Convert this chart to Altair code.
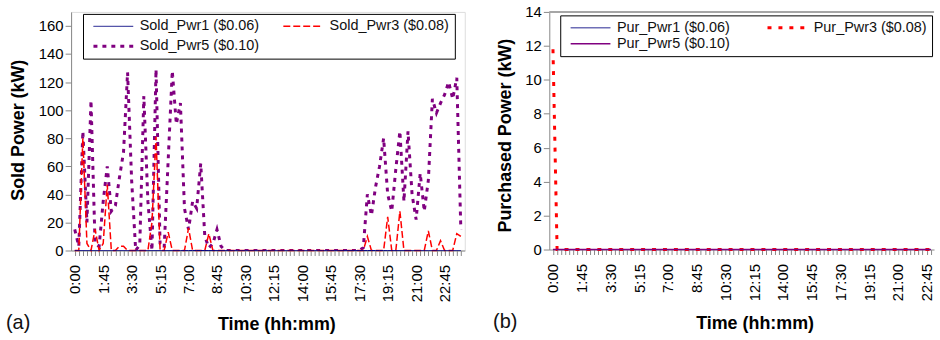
import json
import altair as alt
import pandas as pd

FONT = "Liberation Sans"

TIMES = [f"{h}:{m:02d}" for h in range(24) for m in (0, 15, 30, 45)]
TICK_LABELS = ["0:00", "1:45", "3:30", "5:15", "7:00", "8:45", "10:30", "12:15",
               "14:00", "15:45", "17:30", "19:15", "21:00", "22:45"]

SOLD_NAMES = ["Sold_Pwr1 ($0.06)", "Sold_Pwr3 ($0.08)", "Sold_Pwr5 ($0.10)"]
PUR_NAMES = ["Pur_Pwr1 ($0.06)", "Pur_Pwr3 ($0.08)", "Pur_Pwr5 ($0.10)"]
PANEL_LABELS = ["(a)", "(b)"]

SOLD_PWR1 = [0] * 96
SOLD_PWR3 = [
    0, 0, 80, 5, 0, 15, 0, 5, 47, 0,
    0, 3, 3, 0, 0, 0, 0, 0, 0, 20,
    81, 0, 0, 13, 0, 0, 0, 0, 16, 0,
    0, 0, 0, 12, 0, 0, 0, 0, 0, 0,
    0, 0, 0, 0, 0, 0, 0, 0, 0, 0,
    0, 0, 0, 0, 0, 0, 0, 0, 0, 0,
    0, 0, 0, 0, 0, 0, 0, 0, 0, 0,
    0, 0, 10, 0, 0, 0, 0, 24, 0, 0,
    28, 0, 0, 0, 0, 0, 0, 14, 0, 0,
    7, 0, 0, 0, 12, 10,
]
SOLD_PWR5 = [
    15, 3, 85, 20, 107, 5, 3, 35, 60, 28,
    32, 52, 70, 127, 50, 0, 4, 110, 35, 0,
    129, 5, 2, 65, 128, 90, 105, 30, 15, 35,
    30, 62, 10, 2, 5, 15, 3, 0, 0, 0,
    0, 0, 0, 0, 0, 0, 0, 0, 0, 0,
    0, 0, 0, 0, 0, 0, 0, 0, 0, 0,
    0, 0, 0, 0, 0, 0, 0, 0, 0, 0,
    0, 2, 40, 25, 45, 60, 80, 40, 28, 58,
    85, 35, 85, 40, 22, 55, 28, 50, 108, 98,
    105, 111, 120, 108, 123, 15,
]
PUR_PWR1 = [0] * 96
PUR_PWR3 = [11.8] + [0] * 95
PUR_PWR5 = [0] * 96

COLORS = ["#000080", "#FF0000", "#800080"]
SOLD_DASH = [[1, 0], [7, 3], [4, 5]]
SOLD_WIDTH = [1, 1.5, 3]
PUR_DASH = [[1, 0], [4, 7], [1, 0]]
PUR_WIDTH = [1, 3, 1.5]

# legend fills column by column: order so that rows read 1, 3 / 5
LEGEND_ORDER = [0, 2, 1]
BORDER = "#a6a6a6"


def make_df(names, series):
    rows = []
    for name, vals in zip(names, series):
        for i, (t, v) in enumerate(zip(TIMES, vals)):
            rows.append({"idx": i, "time": t, "series": name, "value": v})
    return pd.DataFrame(rows)


LABEL_EXPR = (f"indexof({json.dumps(TICK_LABELS)}, {json.dumps(TIMES)}[datum.value]) >= 0"
              f" ? {json.dumps(TIMES)}[datum.value] : ''")


def panel(df, names, dashes, widths, ytitle, ymax, yvalues, width, height, step,
          lx, ly, colpad, rowpad, ytx, yty, label, label_dx, clip_names, order,
          top_rule):
    dom = [names[i] for i in LEGEND_ORDER]
    col_r = [COLORS[i] for i in LEGEND_ORDER]
    dash_r = [dashes[i] for i in LEGEND_ORDER]
    width_r = [widths[i] for i in LEGEND_ORDER]
    xmax = width / step - 0.9
    last = min(95, int(xmax))
    leg = alt.Legend(title=None, orient="none", legendX=lx, legendY=ly, columns=2,
                     columnPadding=colpad, rowPadding=rowpad, symbolType="stroke",
                     symbolSize=1600, clipHeight=15, labelFontSize=14.5, labelFont=FONT,
                     labelColor="#111", labelOffset=5, padding=5,
                     strokeColor="#000", fillColor="#fff", symbolOffset=4,
                     labelLimit=300)
    x = alt.X("idx:Q", scale=alt.Scale(domain=[-0.9, xmax], nice=False, zero=False),
              axis=alt.Axis(title="Time (hh:mm)", values=list(range(0, last + 1)),
                            labelAngle=-90, labelExpr=LABEL_EXPR,
                            labelOverlap=False, labelFontSize=15, labelPadding=9,
                            tickSize=5, grid=False, titleFontSize=18,
                            titleFontWeight="bold", titleX=206.5, titleY=79,
                            titleBaseline="alphabetic", titleAlign="center"))
    y = alt.Y("value:Q", scale=alt.Scale(domain=[0, ymax], nice=False),
              axis=alt.Axis(title=ytitle, values=yvalues,
                            grid=False, labelFontSize=15, tickSize=6, labelPadding=2,
                            titleFontSize=18, titleFontWeight="bold", titleX=ytx,
                            titleY=yty, titleBaseline="alphabetic", titleAlign="center",
                            titleAngle=270))
    enc = dict(
        x=x, y=y,
        color=alt.Color("series:N", scale=alt.Scale(domain=dom, range=col_r), legend=leg),
        strokeDash=alt.StrokeDash("series:N", scale=alt.Scale(domain=dom, range=dash_r),
                                  legend=leg),
        strokeWidth=alt.StrokeWidth("series:N",
                                    scale=alt.Scale(type="ordinal", domain=dom, range=width_r),
                                    legend=leg),
    )
    base = alt.Chart(df)
    layers = []
    if top_rule:
        layers.append(alt.Chart(pd.DataFrame({"edge": [0]}))
                      .mark_rule(color=BORDER, strokeWidth=2)
                      .encode(x=alt.value(0), x2=alt.value(width), y=alt.value(0)))
    for idx in order:
        name = names[idx]
        layers.append(base.mark_line(clip=name in clip_names)
                      .encode(**enc)
                      .transform_filter(alt.datum.series == name)
                      .transform_filter(alt.datum.idx <= last))
    tag = (alt.Chart(pd.DataFrame({"label": [label]}))
           .mark_text(align="left", baseline="alphabetic", fontSize=20, font=FONT,
                      color="#111")
           .encode(text="label:N", x=alt.value(label_dx), y=alt.value(height + 78.5)))
    layers.append(tag)
    props = dict(width=width, height=height)
    if top_rule:
        props["view"] = alt.ViewBackground(stroke="transparent")
    return alt.layer(*layers).properties(**props)


df_a = make_df(SOLD_NAMES, [SOLD_PWR1, SOLD_PWR3, SOLD_PWR5])
df_b = make_df(PUR_NAMES, [PUR_PWR1, PUR_PWR3, PUR_PWR5])

chart_a = panel(df_a, SOLD_NAMES, SOLD_DASH, SOLD_WIDTH, "Sold Power (kW)", 170,
                list(range(0, 161, 20)), 396, 240, 4.088, 12, 2, 18, 4, -48, 118.5,
                PANEL_LABELS[0], -65.5, [SOLD_NAMES[2]], [2, 1, 0], False)
chart_b = panel(df_b, PUR_NAMES, PUR_DASH, PUR_WIDTH, "Purchased Power (kW)", 14,
                list(range(0, 15, 2)), 387, 239, 4.13, 11, 3.5, 32, 0, -38.7, 124,
                PANEL_LABELS[1], -56.5, [], [0, 1, 2], True)

chart = (alt.hconcat(chart_a, chart_b, spacing=85, bounds="flush")
         .resolve_scale(color="independent", strokeDash="independent",
                        strokeWidth="independent", x="independent", y="independent")
         .properties(padding={"left": 5.5, "top": 3, "right": 0, "bottom": 0})
         .configure_view(stroke=BORDER, strokeWidth=2)
         .configure_axis(labelFont=FONT, titleFont=FONT, labelColor="#111",
                         titleColor="#111", domainColor="#555", domainWidth=1.5,
                         tickColor="#555", tickWidth=1)
         .configure(background="white"))

chart.save("out.html", embed_options={"renderer": "svg", "actions": False})
